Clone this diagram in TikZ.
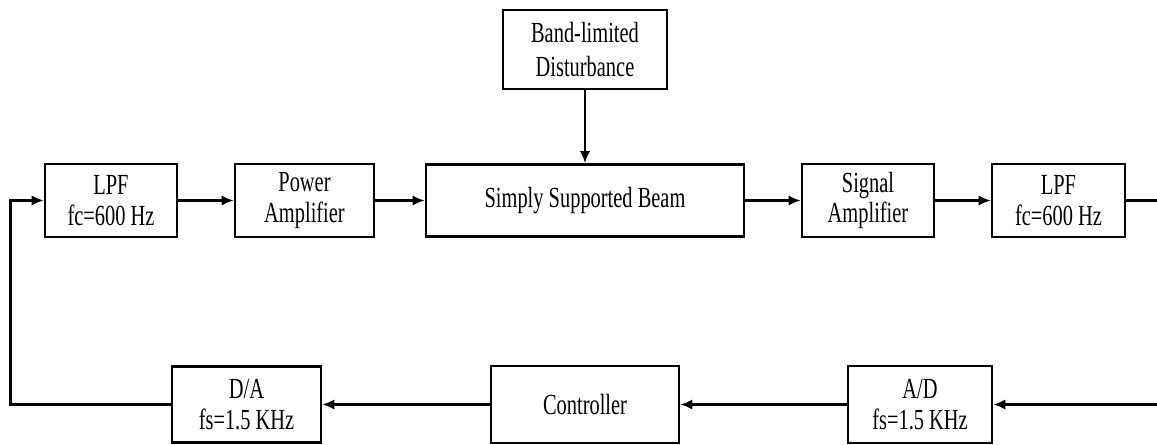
\documentclass[tikz,border=0pt]{standalone}
\usepackage{fontspec}
\setmainfont[FakeStretch=0.7]{Liberation Serif}
\usetikzlibrary{shapes,arrows.meta}
\tikzstyle{line} = [draw, -{Latex[length=6.8pt,width=5.8pt]}]
\tikzstyle{block} = [rectangle, draw, text centered, align=center, minimum height=1.46cm, font=\fontsize{16.6}{17.6}\selectfont]

\begin{document}
\begin{tikzpicture}[line width=1.5pt, auto]
	\useasboundingbox (0,0) rectangle (23.14,-8.9);
	% forward path
	\node [block, minimum width=2.64cm] (lpfa) at (2.22,-4.01) {LPF\\fc=600 Hz};
	\node [block, right of=lpfa, node distance=3.87cm, minimum width=2.78cm] (pamp) {Power\\Amplifier};
	\node [block, right of=pamp, node distance=5.61cm, minimum width=6.36cm, minimum height=1.44cm] (beam) {Simply Supported Beam};
	\node [block, right of=beam, node distance=5.66cm, minimum width=2.64cm] (sigamp) {Signal\\Amplifier};
	\node [block, right of=sigamp, node distance=3.81cm, minimum width=2.66cm] (lpfb) {LPF\\fc=600 Hz};
	\node [block, above of=beam, node distance=3.02cm, minimum width=3.28cm, minimum height=1.58cm] (dist) {Band-limited\\[2pt]Disturbance};
	% feedback path
	\node [block, below of=beam, node distance=4.08cm, minimum width=3.76cm, minimum height=1.54cm] (ctrl) {Controller};
	\node [block, left of=ctrl, node distance=6.77cm, minimum width=2.98cm, minimum height=1.52cm] (da) {D/A\\fs=1.5 KHz};
	\node [block, right of=ctrl, node distance=6.7cm, minimum width=2.88cm, minimum height=1.54cm] (ad) {A/D\\fs=1.5 KHz};
	\path (da.west) ++(-3.2,0) coordinate (lt);
	\coordinate (ro) at (23.14,-4.01);
	\coordinate (ri) at (23.14,-8.09);
	\path [line] (lpfa) -> (pamp);
	\path [line] (pamp) -> (beam);
	\path [line] (beam) -> (sigamp);
	\path [line] (sigamp) -> (lpfb);
	\path [line] (dist) -> (beam);
	\draw (lpfb.east) -- (ro);
	\path [line] (ri) -> (ad);
	\path [line] (ad) -> (ctrl);
	\path [line] (ctrl) -> (da);
	\path [line] (da.west) -- (lt) |- (lpfa.west);
\end{tikzpicture}
\end{document}
